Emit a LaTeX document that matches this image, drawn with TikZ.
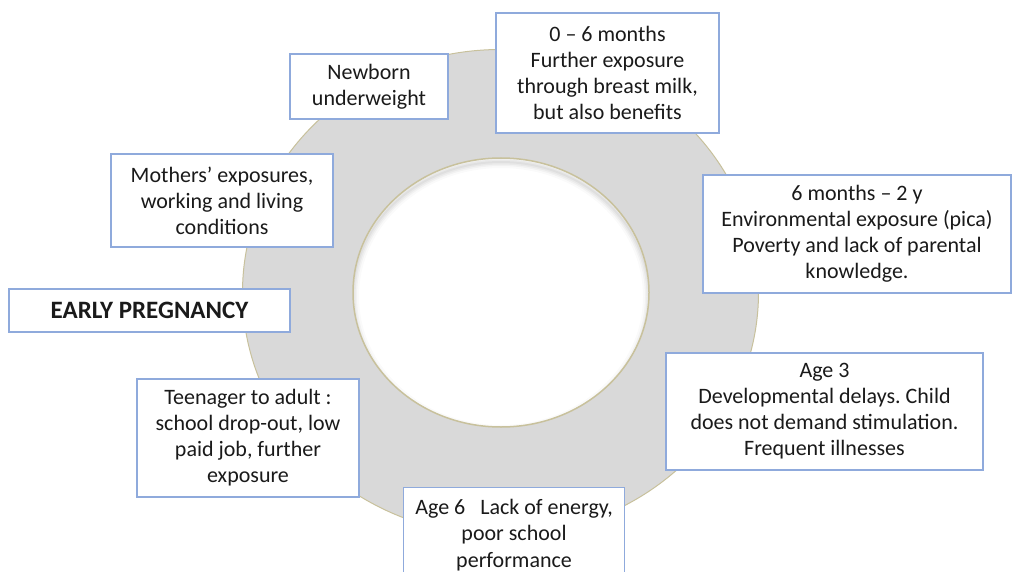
\documentclass[tikz,border=0pt]{standalone}
\usepackage{fontspec}
\setmainfont{Carlito}
\frenchspacing
\definecolor{ringgray}{HTML}{D9D9D9}
\definecolor{ringedge}{HTML}{C8C19C}
\definecolor{boxblue}{HTML}{8FAADC}
\definecolor{textc}{HTML}{1A1A1A}
\begin{document}
\begin{tikzpicture}[x=1pt,y=-1pt,
  box/.style={draw=boxblue, line width=1.1pt, fill=white, align=center,
    inner sep=0pt, text=textc, font=\fontsize{22}{26}\selectfont},
  txt/.style={align=center, inner sep=0pt, text=textc,
    font=\fontsize{22}{26.5}\selectfont},
]
\useasboundingbox (0,0) rectangle (1014,572);
\clip (0,0) rectangle (1014,572);

% grey ring
\fill[ringgray, even odd rule]
  (500.5,292.5) ellipse [x radius=258, y radius=243]
  (501,292.5) ellipse [x radius=148, y radius=134.5];
% soft shadow along the top of the inner hole
\begin{scope}
  \clip (501,292.5) ellipse [x radius=148, y radius=134.5];
  \foreach \w/\o in {12/0.02,8/0.03,5/0.035,2/0.045}
    \draw[black, opacity=\o, line width=\w pt]
      (501,296.5) ellipse [x radius=148, y radius=134.5];
\end{scope}
\draw[ringedge, line width=1pt] (500.5,292.5) ellipse [x radius=258, y radius=243];
\draw[ringedge, line width=1.5pt] (501,292.5) ellipse [x radius=148, y radius=134.5];

% stage boxes
\node[box, minimum width=158pt, minimum height=65pt] (newborn) at (369,86.5)
  {Newborn\\underweight};
\node[box, minimum width=223pt, minimum height=120pt] (zerosix) at (607.5,73)
  {0 – 6 months\\Further exposure\\through breast milk,\\but also benefits};
\node[box, minimum width=222pt, minimum height=93pt] (mothers) at (222,200.5)
  {Mothers’ exposures,\\working and living\\conditions};
\node[box, minimum width=308pt, minimum height=118pt] (sixtwo) at (857,234)
  {6 months – 2 y\\Environmental exposure (pica)\\ Poverty and lack of parental\\knowledge.};
\node[box, minimum width=281pt, minimum height=43pt,
  font=\fontsize{25}{28}\selectfont\bfseries] (early) at (149.5,310.5)
  {EARLY PREGNANCY};
\node[box, minimum width=317pt, minimum height=117pt] (agethree) at (824.5,411.5)
  {Age 3\\Developmental delays. Child\\does not demand stimulation.\\Frequent illnesses};
\node[box, minimum width=222pt, minimum height=118pt] (teen) at (248,438)
  {Teenager to adult :\\school drop-out, low\\paid job, further\\exposure};
\node[box, minimum width=221pt, minimum height=110pt, anchor=north west] (agesix)
  at (403,487) {};
\node[txt, anchor=north] (agesixtext) at ([yshift=-12pt]agesix.north)
  {Age 6\ \ \ Lack of energy,\\poor school\\performance};
\end{tikzpicture}
\end{document}
